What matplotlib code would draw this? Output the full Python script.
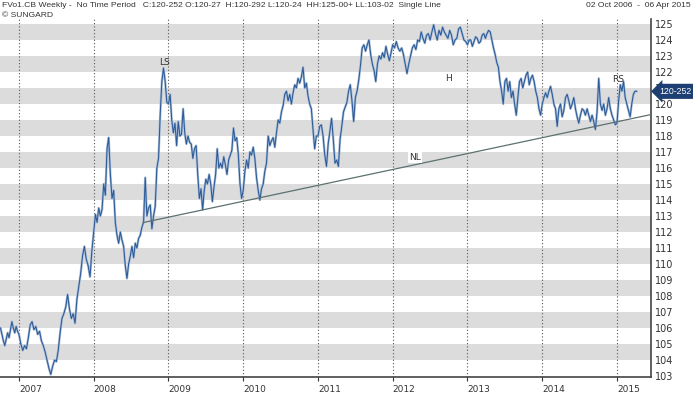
import numpy as np
import matplotlib
matplotlib.use("Agg")
import matplotlib.pyplot as plt
import matplotlib.transforms as mtransforms

# weekly closes, grouped by calendar year
p2006 = [106.0, 105.6, 105.2, 104.9, 105.3, 105.7, 105.4, 105.9, 106.4, 106.0,
         105.7, 106.1, 105.8]
p2007 = [105.6, 105.0, 104.6, 104.9, 104.7, 105.4, 106.2, 106.4, 105.9, 106.1,
         105.6, 105.8, 105.2, 104.9, 104.5, 104.0, 103.5, 103.1, 103.6, 104.0,
         103.9, 104.6, 105.7, 106.6, 106.9, 107.3, 108.1, 107.2, 106.6, 106.9,
         106.3, 107.8, 108.6, 109.4, 110.5, 111.1, 110.3, 109.9, 109.2, 110.8]
p2008 = [112.0, 113.1, 112.6, 113.5, 113.0, 113.4, 115.0, 114.3, 117.2, 117.9,
         115.6, 114.1, 114.6, 112.6, 111.8, 111.3, 112.0, 111.5, 111.1, 109.9,
         109.1, 110.0, 110.5, 111.1, 110.4, 111.3, 111.0, 111.6, 111.8, 112.3,
         112.6, 115.4, 113.0, 113.5, 113.7, 112.2, 113.0, 113.6, 116.0, 116.6,
         119.3, 121.4, 122.25, 121.4, 120.1]
p2009 = [120.0, 120.6, 119.0, 118.2, 118.8, 117.4, 118.9, 118.0, 118.1, 119.7,
         118.2, 117.5, 118.0, 117.6, 117.5, 116.6, 117.2, 117.4, 115.6, 114.1,
         114.7, 113.4, 114.6, 115.3, 115.0, 115.6, 115.0, 113.9, 114.8, 115.6,
         117.2, 116.0, 116.3, 116.0, 116.7, 116.2, 115.6, 116.5, 116.8, 117.1,
         118.5, 117.7, 117.9, 116.8, 115.0, 114.1]
p2010 = [114.6, 115.8, 116.5, 116.0, 117.0, 116.8, 117.3, 116.6, 115.4, 114.6,
         114.0, 114.7, 115.0, 115.8, 116.3, 118.0, 117.4, 117.7, 117.9, 117.3,
         118.2, 119.0, 118.8, 119.5, 119.9, 120.6, 120.8, 120.2, 120.6, 120.0,
         120.7, 121.2, 121.0, 121.6, 121.3, 121.7, 122.3, 121.0, 121.3, 120.5,
         120.0, 119.7, 118.4, 117.2, 118.0]
p2011 = [118.0, 118.6, 118.7, 118.0, 116.8, 116.1, 117.5, 118.3, 119.1, 117.8,
         116.3, 116.5, 116.1, 117.8, 118.6, 119.5, 119.8, 120.1, 120.8, 121.2,
         120.2, 118.9, 120.4, 120.8, 121.5, 122.4, 123.5, 123.7, 123.3, 123.7,
         124.0, 123.1, 122.5, 122.1, 121.4, 122.5, 123.0, 122.8, 123.2, 122.9,
         123.6, 123.1, 122.7, 123.2]
p2012 = [123.7, 123.5, 123.9, 123.5, 123.3, 123.5, 123.1, 122.5, 121.9, 122.5,
         123.0, 123.5, 123.7, 123.4, 124.0, 123.9, 124.5, 124.1, 123.8, 124.3,
         124.4, 124.0, 124.5, 124.95, 124.4, 124.0, 124.6, 124.3, 124.8, 124.5,
         124.3, 124.1, 124.6, 124.3, 123.7, 124.0, 124.1, 124.7, 124.8, 124.4,
         124.0, 123.9]
p2013 = [123.7, 124.0, 124.0, 123.6, 123.9, 124.2, 124.1, 123.8, 123.9, 124.3,
         124.4, 124.1, 124.4, 124.6, 124.5, 124.0, 123.5, 123.1, 122.6, 122.3,
         121.4, 120.8, 120.0, 121.4, 121.6, 120.8, 121.4, 120.4, 120.8, 120.0,
         119.3, 120.4, 121.4, 121.6, 121.0, 121.4, 121.8, 122.0, 121.2, 121.6,
         121.8, 121.4, 120.8, 120.4, 119.7, 119.3]
p2014 = [120.0, 120.4, 120.7, 120.4, 120.8, 121.1, 120.6, 120.0, 119.7, 118.6,
         119.7, 120.0, 119.2, 119.6, 120.4, 120.6, 120.2, 119.7, 120.0, 120.4,
         119.7, 119.2, 118.8, 119.3, 119.7, 119.6, 119.3, 119.7, 119.3, 118.9,
         119.3, 118.9, 118.4, 119.5, 121.6, 120.0, 119.6, 120.0, 119.3, 119.7,
         120.4, 119.7, 119.3, 119.0, 118.7]
p2015 = [118.8, 120.2, 121.2, 120.8, 121.4, 120.4, 120.0, 119.6, 119.2, 120.0,
         120.6, 120.8, 120.79]

years = [2006, 2007, 2008, 2009, 2010, 2011, 2012, 2013, 2014, 2015]
seg_start = [2006.753, 2007, 2008, 2009, 2010, 2011, 2012, 2013, 2014, 2015]
seg_end = [2007, 2008, 2009, 2010, 2011, 2012, 2013, 2014, 2015, 2015.263]
segments = [p2006, p2007, p2008, p2009, p2010, p2011, p2012, p2013, p2014, p2015]

# neckline end points (decimal year, price)
nl_x = [2008.66, 2015.455]
nl_y = [112.59, 119.34]

labels = {"LS": (2008.953, 122.6), "H": (2012.752, 121.6), "RS": (2015.013, 121.55)}
last_close = 120.79
last_label = "120-252"

xs, ys = [], []
for s, e, vals in zip(seg_start, seg_end, segments):
    last = (e == seg_end[-1])
    xs.extend(np.linspace(s, e, len(vals), endpoint=last))
    ys.extend(vals)

fig = plt.figure(figsize=(6.93, 3.94), dpi=100)
ax = fig.add_axes([0.0, 0.0431, 0.9394, 0.9087])

for lo in range(104, 125, 2):
    ax.axhspan(lo, lo + 1, color="#dcdcdc", lw=0, zorder=0.2)

ax.plot(xs, ys, color="#a9bdd8", lw=1.7, zorder=2)
ax.plot(xs, ys, color="#2c5a96", lw=0.75, zorder=3)
ax.plot(nl_x, nl_y, color="#5d7070", lw=0.9, zorder=4)

for name, (tx, ty) in labels.items():
    ax.text(tx, ty, name, fontsize=6.5, ha="center", va="center", color="#333333", zorder=5)
ax.text(2012.298, 116.63, "NL", fontsize=6.5, ha="center", va="center", color="#333333",
        bbox=dict(fc="white", ec="none", pad=0.8), zorder=5)

ax.set_xlim(2006.746, 2015.455)
ax.set_ylim(102.94, 125.31)

ax.set_xticks(years[1:])
ax.set_xticklabels([str(y) for y in years[1:]], fontsize=6.5, color="#333333")
for lab in ax.get_xticklabels():
    lab.set_ha("left")
ax.grid(axis="x", linestyle=(0, (1, 2)), color="#555555", lw=0.8)
ax.set_axisbelow(True)

ax.yaxis.tick_right()
ax.set_yticks(range(103, 126))
ax.tick_params(axis="y", length=0, pad=3, labelsize=7, labelcolor="#333333")
ax.tick_params(axis="x", length=3, pad=3, color="#333333")

for side in ["left", "top"]:
    ax.spines[side].set_visible(False)
for side in ["right", "bottom"]:
    ax.spines[side].set_color("#444444")
    ax.spines[side].set_linewidth(1.2)

trans = mtransforms.blended_transform_factory(ax.transAxes, ax.transData)
ax.text(1.013, last_close, last_label, transform=trans, fontsize=6.3, color="white",
        family="Liberation Sans", va="center", ha="left", zorder=6, clip_on=False,
        bbox=dict(boxstyle="larrow,pad=0.35", fc="#1d3f74", ec="none"))

hdr = dict(fontsize=6.1, va="center", color="#333333", family="Liberation Sans")
fig.text(0.003, 0.985, "FVo1.CB Weekly -  No Time Period   C:120-252 O:120-27  H:120-292 L:120-24  "
         "HH:125-00+ LL:103-02  Single Line", ha="left", **hdr)
fig.text(0.003, 0.96, "\u00a9 SUNGARD", ha="left", **hdr)
fig.text(0.997, 0.985, "02 Oct 2006  -  06 Apr 2015", ha="right", **hdr)

fig.savefig("out.png", dpi=100)
